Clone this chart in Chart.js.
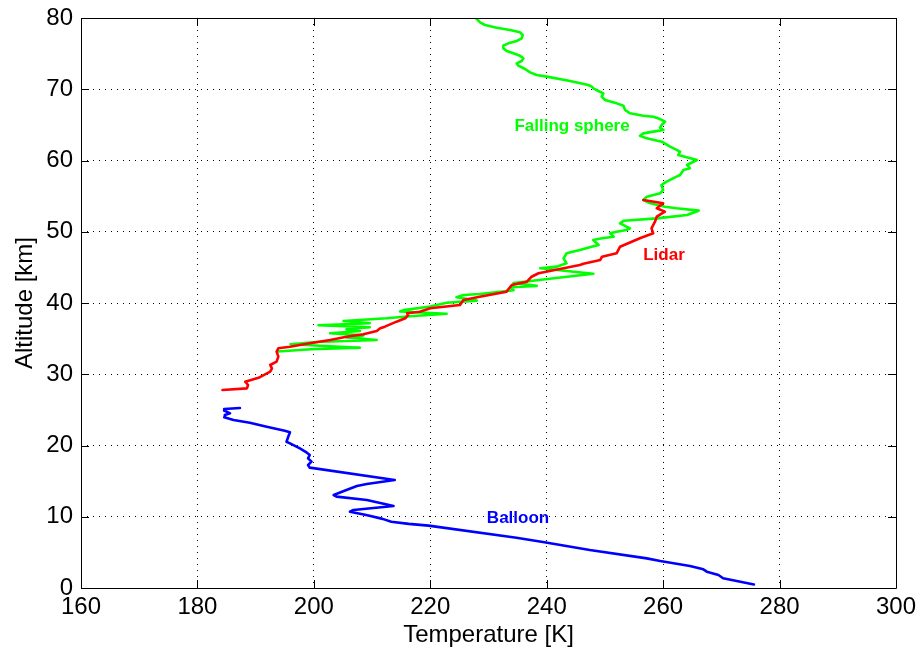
<!DOCTYPE html>
<html>
<head>
<meta charset="utf-8">
<script src="https://cdn.jsdelivr.net/npm/chart.js@4/dist/chart.umd.min.js"></script>
<style>
  html, body { margin: 0; padding: 0; background: #fff; }
  #c { display: block; }
</style>
</head>
<body>
<canvas id="c" width="916" height="651"></canvas>
<script>
// Axis ticks
const xTicks = [160, 180, 200, 220, 240, 260, 280, 300];
const yTicks = [0, 10, 20, 30, 40, 50, 60, 70, 80];

// Balloon profile
const balloonAlt  = [0.5, 1.36, 1.82, 2.29, 2.62, 3.09, 3.79, 4.16, 5.33, 6.41, 7.06, 8.75, 9.0, 9.3, 9.7, 10.25, 10.71, 10.95, 11.51, 12.35, 12.82, 13.05, 13.75, 14.32, 14.6, 15.16, 16.89, 17.26, 17.73, 18.2, 18.67, 18.99, 19.6, 20.3, 20.53, 21.23, 21.85, 22.08, 22.64, 23.2, 23.58, 23.96, 24.28, 24.52, 24.88, 25.12, 25.26];
const balloonTemp = [275.6, 270.3, 269.5, 267.5, 266.9, 264.6, 259.5, 257.2, 247.4, 239.6, 234.8, 219.7, 216.3, 213.3, 211.8, 209.0, 206.2, 206.8, 213.7, 209.1, 203.9, 203.4, 205.6, 207.4, 209.1, 213.9, 199.3, 199.0, 199.6, 199.0, 199.3, 198.8, 197.6, 195.9, 195.3, 195.6, 195.9, 195.0, 191.9, 189.0, 186.2, 184.6, 184.7, 185.6, 184.7, 184.6, 187.3];

// Lidar profile
const lidarAlt  = [27.79, 28.02, 28.49, 28.95, 29.5, 30.36, 30.83, 31.3, 31.77, 32.47, 33.17, 33.64, 33.87, 34.34, 34.81, 35.27, 35.61, 36.07, 36.45, 36.68, 37.38, 37.85, 38.32, 38.55, 38.78, 39.26, 39.72, 40.42, 40.89, 41.59, 42.53, 42.99, 43.69, 44.17, 44.87, 45.33, 45.5, 46.04, 46.5, 46.97, 47.9, 49.08, 49.78, 50.48, 51.41, 52.11, 52.82, 53.29, 53.99, 54.46];
const lidarTemp = [184.3, 188.5, 188.7, 188.2, 190.5, 192.5, 192.8, 192.5, 193.6, 193.9, 193.6, 193.9, 195.9, 199.3, 202.8, 205.6, 208.5, 210.8, 211.4, 212.2, 214.2, 215.7, 216.2, 216.0, 218.2, 220.0, 225.1, 225.7, 228.5, 233.1, 234.0, 236.6, 237.4, 238.6, 242.9, 245.7, 246.3, 249.2, 249.5, 252.0, 252.6, 256.0, 258.3, 258.0, 258.6, 258.9, 260.3, 258.9, 260.0, 256.6];

// Falling sphere profile (top down)
const sphereAlt  = [79.95, 79.39, 79.02, 78.64, 78.32, 77.99, 77.61, 77.15, 76.77, 76.44, 76.12, 75.74, 75.37, 75.04, 74.71, 74.34, 73.96, 73.64, 73.31, 72.84, 72.37, 72.0, 71.77, 71.16, 70.6, 70.36, 70.13, 69.75, 69.43, 68.96, 68.49, 68.02, 67.69, 67.09, 66.62, 66.29, 66.15, 65.82, 65.45, 64.98, 64.61, 64.28, 64.05, 63.81, 63.48, 63.11, 62.64, 61.94, 61.24, 60.77, 60.07, 59.37, 58.9, 58.67, 57.96, 57.73, 57.03, 56.56, 55.86, 55.4, 54.92, 54.46, 53.99, 53.52, 53.29, 52.96, 52.35, 51.88, 51.55, 51.18, 50.48, 50.25, 50.01, 49.78, 49.31, 49.08, 48.84, 48.14, 47.9, 47.44, 46.97, 46.27, 45.57, 45.1, 44.87, 44.1, 43.3, 42.8, 42.4, 42.2, 41.8, 41.26, 41.12, 40.8, 40.33, 40.04, 39.5, 39.0, 38.8, 38.5, 38.1, 37.85, 37.47, 37.15, 36.87, 36.59, 36.31, 36.07, 35.75, 35.46, 35.18, 34.81, 34.53, 34.2, 33.73, 33.5, 33.2];
const sphereTemp = [227.86, 228.55, 229.4, 231.41, 233.7, 235.42, 235.87, 235.7, 234.84, 233.41, 232.55, 232.55, 233.13, 234.27, 235.42, 235.99, 235.7, 234.84, 235.13, 236.28, 237.14, 238.28, 240.0, 244.01, 247.16, 247.73, 248.02, 248.88, 249.73, 249.45, 250.02, 252.02, 253.17, 253.46, 254.32, 256.6, 258.32, 259.47, 260.33, 259.75, 259.47, 260.04, 258.32, 256.6, 256.03, 257.18, 259.75, 261.2, 262.9, 262.6, 265.8, 264.1, 264.6, 263.5, 262.9, 262.3, 260.6, 259.7, 260.0, 259.5, 257.2, 256.6, 257.8, 260.3, 262.3, 266.1, 264.1, 258.9, 253.2, 252.6, 254.3, 253.7, 252.0, 250.9, 251.5, 249.5, 248.0, 248.9, 247.7, 245.7, 243.4, 242.9, 243.4, 241.7, 238.9, 248.0, 239.4, 234.3, 238.3, 233.7, 234.3, 228.5, 225.7, 224.5, 228.0, 222.8, 220.0, 215.4, 214.8, 222.8, 216.0, 212.5, 205.1, 209.6, 200.8, 209.6, 205.6, 207.9, 202.8, 208.5, 205.6, 210.8, 200.5, 196.0, 207.9, 199.5, 193.8];

// Curve labels
const labelText = ['Falling sphere', 'Lidar', 'Balloon'];
const labelTemp = [244.35, 260.15, 235.07];
const labelAlt  = [64.84, 46.74, 9.82];
const labelColor = ['#00ff00', '#ff0000', '#0000ff'];

const FONT = '"Liberation Sans", Arial, Helvetica, sans-serif';
const toPts = (t, a) => t.map((v, i) => ({ x: v, y: a[i] }));

const frame = {
  id: 'frame',
  afterDatasetsDraw(chart) {
    const { ctx, chartArea: { left, right, top, bottom }, scales: { x, y } } = chart;
    ctx.save();
    ctx.strokeStyle = '#000';
    ctx.lineWidth = 1;
    ctx.beginPath();
    ctx.rect(Math.round(left) + 0.5, Math.round(top) + 0.5, Math.round(right - left), Math.round(bottom - top));
    ctx.stroke();
    const L = 8;
    ctx.beginPath();
    xTicks.forEach(v => {
      const p = Math.round(x.getPixelForValue(v)) + 0.5;
      ctx.moveTo(p, bottom); ctx.lineTo(p, bottom - L);
      ctx.moveTo(p, top); ctx.lineTo(p, top + L);
    });
    yTicks.forEach(v => {
      const p = Math.round(y.getPixelForValue(v)) + 0.5;
      ctx.moveTo(left, p); ctx.lineTo(left + L, p);
      ctx.moveTo(right, p); ctx.lineTo(right - L, p);
    });
    ctx.stroke();
    ctx.font = 'bold 17px ' + FONT;
    ctx.textAlign = 'center';
    ctx.textBaseline = 'middle';
    labelText.forEach((t, i) => {
      ctx.fillStyle = labelColor[i];
      ctx.fillText(t, x.getPixelForValue(labelTemp[i]), y.getPixelForValue(labelAlt[i]));
    });
    ctx.restore();
  }
};

new Chart(document.getElementById('c'), {
  type: 'scatter',
  data: {
    datasets: [
      { label: 'Balloon', data: toPts(balloonTemp, balloonAlt), borderColor: '#0000ff' },
      { label: 'Lidar', data: toPts(lidarTemp, lidarAlt), borderColor: '#ff0000' },
      { label: 'Falling sphere', data: toPts(sphereTemp, sphereAlt), borderColor: '#00ff00' }
    ].map(d => Object.assign(d, { showLine: true, pointRadius: 0, borderWidth: 2.6, tension: 0, fill: false, borderJoinStyle: 'round', borderCapStyle: 'round' }))
  },
  options: {
    responsive: false,
    animation: false,
    devicePixelRatio: 1,
    layout: { padding: { left: 0, right: 20, top: 18, bottom: 0 } },
    plugins: { legend: { display: false }, tooltip: { enabled: false } },
    scales: {
      x: {
        type: 'linear', min: 160, max: 300,
        afterBuildTicks: s => { s.ticks = xTicks.map(v => ({ value: v })); },
        afterFit: s => { s.height = 63; s.paddingLeft = 0; s.paddingRight = 0; },
        ticks: { color: '#000', font: { family: FONT, size: 24 }, padding: 5, maxRotation: 0 },
        grid: { color: '#000', lineWidth: 1, drawTicks: false },
        border: { display: false, dash: [1, 5] },
        title: { display: true, text: 'Temperature [K]', color: '#000', font: { family: FONT, size: 24 }, padding: { top: 0, bottom: 1 } }
      },
      y: {
        type: 'linear', min: 0, max: 80,
        afterBuildTicks: s => { s.ticks = yTicks.map(v => ({ value: v })); },
        afterFit: s => { s.width = 81; s.paddingTop = 0; s.paddingBottom = 0; },
        ticks: { color: '#000', font: { family: FONT, size: 24 }, padding: 8 },
        grid: { color: '#000', lineWidth: 1, drawTicks: false },
        border: { display: false, dash: [1, 5] },
        title: { display: true, text: 'Altitude [km]', color: '#000', font: { family: FONT, size: 24 }, padding: { top: 11, bottom: 0 } }
      }
    }
  },
  plugins: [frame]
});
</script>
</body>
</html>
